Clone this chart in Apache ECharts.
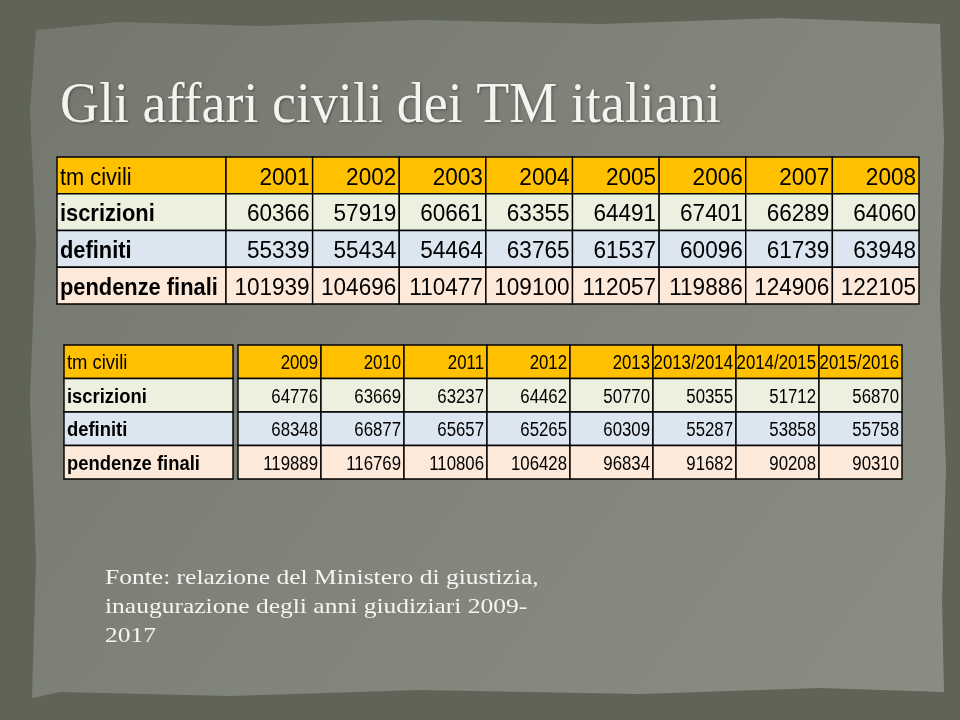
<!DOCTYPE html>
<html><head><meta charset="utf-8">
<script src="https://cdn.jsdelivr.net/npm/echarts@6/dist/echarts.min.js"></script>
<style>html,body{margin:0;padding:0;background:#5f6456}#c{width:960px;height:720px}</style>
</head><body><div id="c"></div>
<script>
const rowLabels = ['tm civili', 'iscrizioni', 'definiti', 'pendenze finali'];
const years1 = ['2001', '2002', '2003', '2004', '2005', '2006', '2007', '2008'];
const iscrizioni1 = [60366, 57919, 60661, 63355, 64491, 67401, 66289, 64060];
const definiti1 = [55339, 55434, 54464, 63765, 61537, 60096, 61739, 63948];
const pendenze1 = [101939, 104696, 110477, 109100, 112057, 119886, 124906, 122105];
const years2 = ['2009', '2010', '2011', '2012', '2013', '2013/2014', '2014/2015', '2015/2016'];
const iscrizioni2 = [64776, 63669, 63237, 64462, 50770, 50355, 51712, 56870];
const definiti2 = [68348, 66877, 65657, 65265, 60309, 55287, 53858, 55758];
const pendenze2 = [119889, 116769, 110806, 106428, 96834, 91682, 90208, 90310];

const rowFill = ['#FFC000', '#EBF1DE', '#DCE6F1', '#FDE9D9'];
const FONT = "'Liberation Sans', Arial, sans-serif";
const SERIF = "'Liberation Serif', serif";

function valueCells(years, a, b, c) {
  const cells = [];
  years.forEach((y, i) => {
    cells.push({ value: [i, 0], text: y });
    cells.push({ value: [i, 1], text: String(a[i]) });
    cells.push({ value: [i, 2], text: String(b[i]) });
    cells.push({ value: [i, 3], text: String(c[i]) });
  });
  return cells;
}
function labelCells() {
  return rowLabels.map((l, r) => ({ value: [0, r], text: l }));
}

function makeSeries(cells, gridIdx, fontSize, isLabel, sx, dy) {
  return {
    type: 'custom',
    xAxisIndex: gridIdx, yAxisIndex: gridIdx,
    data: cells,
    silent: true,
    renderItem: function (params, api) {
      const c = api.value(0), r = api.value(1);
      const p = api.coord([c, r]);
      const s = api.size([1, 1]);
      const x = p[0] - s[0] / 2, y = p[1] - s[1] / 2;
      const cell = cells[params.dataIndex];
      return {
        type: 'group',
        children: [
          { type: 'rect', shape: { x: x, y: y, width: s[0], height: s[1] },
            style: { fill: rowFill[r], stroke: '#000', lineWidth: 1.4 } },
          { type: 'text', x: isLabel ? x + 3 : x + s[0] - 3, y: p[1] + dy, scaleX: sx,
            style: { text: cell.text, x: 0, y: 0,
              align: isLabel ? 'left' : 'right', verticalAlign: 'middle',
              fontFamily: FONT, fontSize: fontSize,
              fontWeight: (isLabel && r > 0) ? 'bold' : 'normal', fill: '#000' } }
        ]
      };
    }
  };
}

const grids = [
  { left: 57, top: 157, width: 169, height: 147 },
  { left: 226, top: 157, width: 693, height: 147 },
  { left: 64, top: 345, width: 169, height: 134 },
  { left: 238, top: 345, width: 664, height: 134 }
];
const xCats = [['label'], years1, ['label'], years2];
const chart = echarts.init(document.getElementById('c'), null, { renderer: 'canvas' });
chart.setOption({
  animation: false,
  backgroundColor: '#5f6456',
  grid: grids,
  xAxis: xCats.map((d, i) => ({ type: 'category', data: d, gridIndex: i, show: false })),
  yAxis: grids.map((g, i) => ({ type: 'category', data: rowLabels, gridIndex: i, inverse: true, show: false })),
  graphic: [
    { type: 'polygon', z: -10, shape: { points: [[36, 30], [120, 22], [260, 26], [420, 20], [600, 24], [780, 18], [940, 24], [944, 140], [940, 300], [946, 470], [942, 600], [944, 692], [820, 688], [640, 694], [420, 690], [230, 696], [60, 692], [32, 698], [36, 560], [30, 400], [36, 240], [30, 110]] },
      style: { fill: { type: 'linear', x: 0, y: 0, x2: 1, y2: 1, colorStops: [{ offset: 0, color: '#73776d' }, { offset: 0.5, color: '#80847a' }, { offset: 1, color: '#8a8d84' }] } } },
    { type: 'text', left: 60, top: 79, z: 10, scaleX: 0.965,
      style: { text: 'Gli affari civili dei TM italiani', fontFamily: SERIF, fontSize: 56, fill: '#f3f3ef',
        textShadowColor: 'rgba(0,0,0,0.35)', textShadowBlur: 3, textShadowOffsetX: 1, textShadowOffsetY: 1 } },
    { type: 'text', left: 105, top: 564, z: 10, scaleX: 1.16,
      style: { text: 'Fonte: relazione del Ministero di giustizia,\ninaugurazione degli anni giudiziari 2009-\n2017', fontFamily: SERIF, fontSize: 22, lineHeight: 29, fill: '#f5f5f2' } }
  ],
  series: [
    makeSeries(labelCells(), 0, 23, true, 0.95, 3),
    makeSeries(valueCells(years1, iscrizioni1, definiti1, pendenze1), 1, 23, false, 0.98, 3),
    makeSeries(labelCells(), 2, 20, true, 0.92, 2),
    makeSeries(valueCells(years2, iscrizioni2, definiti2, pendenze2), 3, 20, false, 0.84, 2)
  ]
});
</script></body></html>
